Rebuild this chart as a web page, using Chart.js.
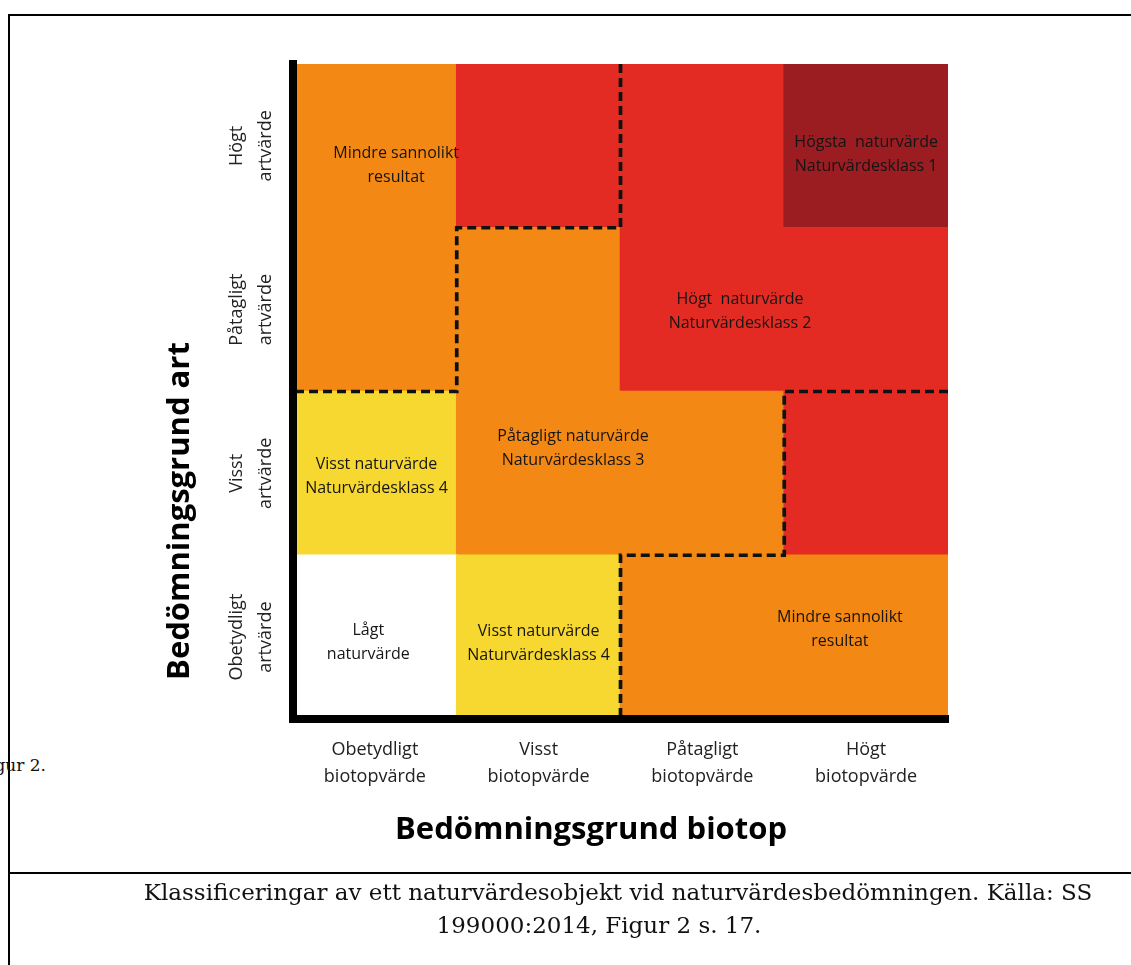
<!DOCTYPE html>
<html>
<head>
<meta charset="utf-8">
<script src="https://cdn.jsdelivr.net/npm/chart.js@4/dist/chart.umd.min.js"></script>
<style>
  html, body { margin: 0; padding: 0; background: #fff; }
  body { width: 1131px; height: 965px; position: relative; overflow: hidden; }
  #chartBox { position: absolute; left: 0; top: 0; width: 1131px; height: 965px; }
  .rule { position: absolute; background: #000; }
  .serif { position: absolute; font-family: "DejaVu Serif", serif; color: #111; white-space: nowrap; }
</style>
</head>
<body>
<div class="rule" style="left:8px; top:14px; width:1123px; height:2px;"></div>
<div class="rule" style="left:8px; top:14px; width:2px; height:951px;"></div>
<div class="rule" style="left:8px; top:872px; width:1123px; height:2px;"></div>
<div class="serif" style="right:1085px; top:755px; font-size:17px;">Figur 2.</div>
<div id="chartBox"><canvas id="matrixChart" width="1131" height="965"></canvas></div>
<div class="serif" style="left:0; width:1236px; text-align:center; top:879px; font-size:23px;">Klassificeringar av ett naturvärdesobjekt vid naturvärdesbedömningen. Källa: SS</div>
<div class="serif" style="left:0; width:1198px; text-align:center; top:912px; font-size:23px;">199000:2014, Figur 2 s. 17.</div>

<script>
// Axis categories (columns = biotop, rows = art, bottom to top)
const biotopLabels = [['Obetydligt', 'biotopvärde'], ['Visst', 'biotopvärde'], ['Påtagligt', 'biotopvärde'], ['Högt', 'biotopvärde']];
const artLabels = [['Obetydligt', 'artvärde'], ['Visst', 'artvärde'], ['Påtagligt', 'artvärde'], ['Högt', 'artvärde']];
const tickValues = [0.5, 1.5, 2.5, 3.5];
const xTitle = 'Bedömningsgrund biotop';
const yTitle = 'Bedömningsgrund art';

// Classification of each cell, one list per art row
const obetydligtArt = ['lagt', 'visst', 'mindre', 'mindre'];
const visstArt = ['visst', 'patagligt', 'patagligt', 'hogt'];
const patagligtArt = ['mindre', 'patagligt', 'hogt', 'hogt'];
const hogtArt = ['mindre', 'hogt', 'hogt', 'hogsta'];
const artRows = [obetydligtArt, visstArt, patagligtArt, hogtArt];

const classColors = {
  lagt: '#ffffff',
  visst: '#f6d830',
  patagligt: '#f48814',
  mindre: '#f48814',
  hogt: '#e42b23',
  hogsta: '#9b1c21'
};

// Dashed borders of the "Mindre sannolikt resultat" areas
const upperBorder = [{x: 2, y: 4}, {x: 2, y: 3}, {x: 1, y: 3}, {x: 1, y: 2}, {x: 0, y: 2}];
const lowerBorder = [{x: 4, y: 2}, {x: 3, y: 2}, {x: 3, y: 1}, {x: 2, y: 1}, {x: 2, y: 0}];

// Text in the cells, at data positions
const cellTexts = [
  {x: 0.63, y: 3.38, lines: ['Mindre sannolikt', 'resultat']},
  {x: 3.5, y: 3.445, lines: ['Högsta  naturvärde', 'Naturvärdesklass 1']},
  {x: 2.73, y: 2.49, lines: ['Högt  naturvärde', 'Naturvärdesklass 2']},
  {x: 1.71, y: 1.65, lines: ['Påtagligt naturvärde', 'Naturvärdesklass 3']},
  {x: 0.51, y: 1.48, lines: ['Visst naturvärde', 'Naturvärdesklass 4']},
  {x: 0.46, y: 0.47, lines: ['Lågt', 'naturvärde']},
  {x: 1.5, y: 0.46, lines: ['Visst naturvärde', 'Naturvärdesklass 4']},
  {x: 3.34, y: 0.55, lines: ['Mindre sannolikt', 'resultat']}
];

const barSets = artRows.map((row, r) => ({
  type: 'bar',
  order: 2,
  data: row.map((cls, c) => ({x: c + 0.5, y: [r, r + 1]})),
  backgroundColor: row.map(cls => classColors[cls]),
  borderWidth: 0,
  inflateAmount: 0.8,
  barPercentage: 1,
  categoryPercentage: 1,
  grouped: false
}));

const dashSets = [upperBorder, lowerBorder].map(points => ({
  type: 'line',
  order: 1,
  data: points,
  borderColor: '#111',
  borderWidth: 3.7,
  borderDash: [9, 5],
  pointRadius: 0,
  fill: false,
  tension: 0
}));

// cell texts + axis titles (titles sit off-centre in the original)
const cellTextPlugin = {
  id: 'cellText',
  afterDatasetsDraw(chart) {
    const ctx = chart.ctx;
    const xs = chart.scales.x, ys = chart.scales.y;
    ctx.save();
    ctx.font = '16px "Open Sans"';
    ctx.fillStyle = '#151515';
    ctx.textAlign = 'center';
    ctx.textBaseline = 'middle';
    cellTexts.forEach(t => {
      const px = xs.getPixelForValue(t.x);
      const py = ys.getPixelForValue(t.y);
      t.lines.forEach((line, i) => {
        ctx.fillText(line, px, py + (i - (t.lines.length - 1) / 2) * 24);
      });
    });

    ctx.font = 'bold 31px "Open Sans"';
    ctx.fillStyle = '#000';
    ctx.fillText(xTitle, xs.getPixelForValue(1.82), xs.bottom - 22);
    ctx.translate(ys.left + 21, ys.getPixelForValue(1.27));
    ctx.rotate(-Math.PI / 2);
    ctx.fillText(yTitle, 0, 0);
    ctx.restore();
  }
};

new Chart(document.getElementById('matrixChart'), {
  data: { datasets: [...dashSets, ...barSets] },
  plugins: [cellTextPlugin],
  options: {
    responsive: false,
    animation: false,
    layout: { padding: { left: 159, top: 64, right: 183, bottom: 113 } },
    plugins: { legend: { display: false }, tooltip: { enabled: false } },
    scales: {
      x: {
        type: 'linear', min: 0, max: 4,
        offset: false,
        grid: { display: false, drawTicks: false, offset: false },
        border: { display: true, color: '#000', width: 8, z: 1 },
        afterBuildTicks: s => { s.ticks = tickValues.map(v => ({value: v})); },
        afterFit: s => { s.height = 133; },
        ticks: {
          padding: 17,
          color: '#222',
          font: { family: 'Open Sans', size: 18, lineHeight: 1.5 },
          callback: (v, i) => biotopLabels[i]
        }
      },
      y: {
        type: 'linear', min: 0, max: 4,
        grid: { display: false, drawTicks: false },
        border: { display: true, color: '#000', width: 8, z: 1 },
        afterBuildTicks: s => { s.ticks = tickValues.map(v => ({value: v})); },
        afterFit: s => { s.width = 134; },
        ticks: {
          padding: -2,
          minRotation: 90,
          maxRotation: 90,
          crossAlign: 'center',
          color: '#222',
          font: { family: 'Open Sans', size: 18, lineHeight: 1.6 },
          callback: (v, i) => artLabels[i]
        }
      }
    }
  }
});
</script>
</body>
</html>
